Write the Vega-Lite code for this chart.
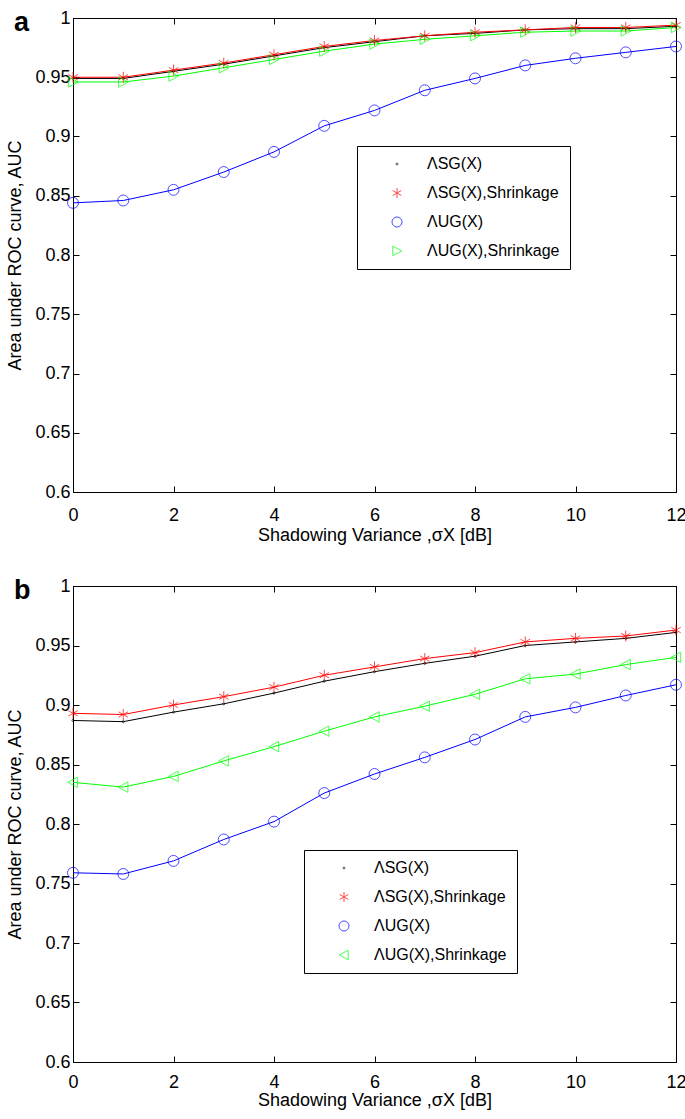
{
  "$schema": "https://vega.github.io/schema/vega-lite/v6.json",
  "background": "white",
  "padding": {"left": 6, "top": 8, "right": 9, "bottom": 2},
  "spacing": 31,
  "config": {
    "font": "Liberation Sans",
    "view": {"stroke": "black", "strokeWidth": 1},
    "axis": {
      "grid": false,
      "domainColor": "black",
      "tickColor": "black",
      "labelColor": "black",
      "titleColor": "black",
      "labelFont": "Liberation Sans",
      "titleFont": "Liberation Sans",
      "labelFontSize": 18,
      "titleFontSize": 18,
      "titleFontWeight": "normal",
      "tickSize": -6,
      "labelFlush": false,
      "labelOverlap": false
    },
    "legend": {
      "labelFont": "Liberation Sans",
      "labelFontSize": 16,
      "labelColor": "black",
      "strokeColor": "black",
      "fillColor": "white",
      "padding": 10,
      "rowPadding": 13,
      "symbolSize": 100,
      "symbolStrokeWidth": 1,
      "symbolOffset": 22,
      "labelOffset": 22
    },
    "title": {"font": "Liberation Sans", "fontSize": 27, "fontWeight": "bold", "color": "black"}
  },
  "datasets": {
    "auc": [
      {"panel": "a", "x": 0, "series": "ΛSG(X)", "auc": 0.949},
      {"panel": "a", "x": 1, "series": "ΛSG(X)", "auc": 0.949},
      {"panel": "a", "x": 2, "series": "ΛSG(X)", "auc": 0.955},
      {"panel": "a", "x": 3, "series": "ΛSG(X)", "auc": 0.961},
      {"panel": "a", "x": 4, "series": "ΛSG(X)", "auc": 0.968},
      {"panel": "a", "x": 5, "series": "ΛSG(X)", "auc": 0.975},
      {"panel": "a", "x": 6, "series": "ΛSG(X)", "auc": 0.980},
      {"panel": "a", "x": 7, "series": "ΛSG(X)", "auc": 0.985},
      {"panel": "a", "x": 8, "series": "ΛSG(X)", "auc": 0.987},
      {"panel": "a", "x": 9, "series": "ΛSG(X)", "auc": 0.990},
      {"panel": "a", "x": 10, "series": "ΛSG(X)", "auc": 0.991},
      {"panel": "a", "x": 11, "series": "ΛSG(X)", "auc": 0.991},
      {"panel": "a", "x": 12, "series": "ΛSG(X)", "auc": 0.993},
      {"panel": "a", "x": 0, "series": "ΛSG(X),Shrinkage", "auc": 0.950},
      {"panel": "a", "x": 1, "series": "ΛSG(X),Shrinkage", "auc": 0.950},
      {"panel": "a", "x": 2, "series": "ΛSG(X),Shrinkage", "auc": 0.956},
      {"panel": "a", "x": 3, "series": "ΛSG(X),Shrinkage", "auc": 0.962},
      {"panel": "a", "x": 4, "series": "ΛSG(X),Shrinkage", "auc": 0.969},
      {"panel": "a", "x": 5, "series": "ΛSG(X),Shrinkage", "auc": 0.976},
      {"panel": "a", "x": 6, "series": "ΛSG(X),Shrinkage", "auc": 0.981},
      {"panel": "a", "x": 7, "series": "ΛSG(X),Shrinkage", "auc": 0.985},
      {"panel": "a", "x": 8, "series": "ΛSG(X),Shrinkage", "auc": 0.988},
      {"panel": "a", "x": 9, "series": "ΛSG(X),Shrinkage", "auc": 0.990},
      {"panel": "a", "x": 10, "series": "ΛSG(X),Shrinkage", "auc": 0.992},
      {"panel": "a", "x": 11, "series": "ΛSG(X),Shrinkage", "auc": 0.992},
      {"panel": "a", "x": 12, "series": "ΛSG(X),Shrinkage", "auc": 0.994},
      {"panel": "a", "x": 0, "series": "ΛUG(X)", "auc": 0.844},
      {"panel": "a", "x": 1, "series": "ΛUG(X)", "auc": 0.846},
      {"panel": "a", "x": 2, "series": "ΛUG(X)", "auc": 0.855},
      {"panel": "a", "x": 3, "series": "ΛUG(X)", "auc": 0.870},
      {"panel": "a", "x": 4, "series": "ΛUG(X)", "auc": 0.887},
      {"panel": "a", "x": 5, "series": "ΛUG(X)", "auc": 0.909},
      {"panel": "a", "x": 6, "series": "ΛUG(X)", "auc": 0.922},
      {"panel": "a", "x": 7, "series": "ΛUG(X)", "auc": 0.939},
      {"panel": "a", "x": 8, "series": "ΛUG(X)", "auc": 0.949},
      {"panel": "a", "x": 9, "series": "ΛUG(X)", "auc": 0.960},
      {"panel": "a", "x": 10, "series": "ΛUG(X)", "auc": 0.966},
      {"panel": "a", "x": 11, "series": "ΛUG(X)", "auc": 0.971},
      {"panel": "a", "x": 12, "series": "ΛUG(X)", "auc": 0.976},
      {"panel": "a", "x": 0, "series": "ΛUG(X),Shrinkage", "auc": 0.946},
      {"panel": "a", "x": 1, "series": "ΛUG(X),Shrinkage", "auc": 0.946},
      {"panel": "a", "x": 2, "series": "ΛUG(X),Shrinkage", "auc": 0.951},
      {"panel": "a", "x": 3, "series": "ΛUG(X),Shrinkage", "auc": 0.958},
      {"panel": "a", "x": 4, "series": "ΛUG(X),Shrinkage", "auc": 0.965},
      {"panel": "a", "x": 5, "series": "ΛUG(X),Shrinkage", "auc": 0.972},
      {"panel": "a", "x": 6, "series": "ΛUG(X),Shrinkage", "auc": 0.978},
      {"panel": "a", "x": 7, "series": "ΛUG(X),Shrinkage", "auc": 0.982},
      {"panel": "a", "x": 8, "series": "ΛUG(X),Shrinkage", "auc": 0.985},
      {"panel": "a", "x": 9, "series": "ΛUG(X),Shrinkage", "auc": 0.988},
      {"panel": "a", "x": 10, "series": "ΛUG(X),Shrinkage", "auc": 0.989},
      {"panel": "a", "x": 11, "series": "ΛUG(X),Shrinkage", "auc": 0.989},
      {"panel": "a", "x": 12, "series": "ΛUG(X),Shrinkage", "auc": 0.992},
      {"panel": "b", "x": 0, "series": "ΛSG(X)", "auc": 0.887},
      {"panel": "b", "x": 1, "series": "ΛSG(X)", "auc": 0.886},
      {"panel": "b", "x": 2, "series": "ΛSG(X)", "auc": 0.894},
      {"panel": "b", "x": 3, "series": "ΛSG(X)", "auc": 0.901},
      {"panel": "b", "x": 4, "series": "ΛSG(X)", "auc": 0.910},
      {"panel": "b", "x": 5, "series": "ΛSG(X)", "auc": 0.920},
      {"panel": "b", "x": 6, "series": "ΛSG(X)", "auc": 0.928},
      {"panel": "b", "x": 7, "series": "ΛSG(X)", "auc": 0.935},
      {"panel": "b", "x": 8, "series": "ΛSG(X)", "auc": 0.941},
      {"panel": "b", "x": 9, "series": "ΛSG(X)", "auc": 0.950},
      {"panel": "b", "x": 10, "series": "ΛSG(X)", "auc": 0.953},
      {"panel": "b", "x": 11, "series": "ΛSG(X)", "auc": 0.956},
      {"panel": "b", "x": 12, "series": "ΛSG(X)", "auc": 0.961},
      {"panel": "b", "x": 0, "series": "ΛSG(X),Shrinkage", "auc": 0.893},
      {"panel": "b", "x": 1, "series": "ΛSG(X),Shrinkage", "auc": 0.892},
      {"panel": "b", "x": 2, "series": "ΛSG(X),Shrinkage", "auc": 0.900},
      {"panel": "b", "x": 3, "series": "ΛSG(X),Shrinkage", "auc": 0.907},
      {"panel": "b", "x": 4, "series": "ΛSG(X),Shrinkage", "auc": 0.915},
      {"panel": "b", "x": 5, "series": "ΛSG(X),Shrinkage", "auc": 0.925},
      {"panel": "b", "x": 6, "series": "ΛSG(X),Shrinkage", "auc": 0.932},
      {"panel": "b", "x": 7, "series": "ΛSG(X),Shrinkage", "auc": 0.939},
      {"panel": "b", "x": 8, "series": "ΛSG(X),Shrinkage", "auc": 0.944},
      {"panel": "b", "x": 9, "series": "ΛSG(X),Shrinkage", "auc": 0.953},
      {"panel": "b", "x": 10, "series": "ΛSG(X),Shrinkage", "auc": 0.956},
      {"panel": "b", "x": 11, "series": "ΛSG(X),Shrinkage", "auc": 0.958},
      {"panel": "b", "x": 12, "series": "ΛSG(X),Shrinkage", "auc": 0.963},
      {"panel": "b", "x": 0, "series": "ΛUG(X)", "auc": 0.759},
      {"panel": "b", "x": 1, "series": "ΛUG(X)", "auc": 0.758},
      {"panel": "b", "x": 2, "series": "ΛUG(X)", "auc": 0.769},
      {"panel": "b", "x": 3, "series": "ΛUG(X)", "auc": 0.787},
      {"panel": "b", "x": 4, "series": "ΛUG(X)", "auc": 0.802},
      {"panel": "b", "x": 5, "series": "ΛUG(X)", "auc": 0.826},
      {"panel": "b", "x": 6, "series": "ΛUG(X)", "auc": 0.842},
      {"panel": "b", "x": 7, "series": "ΛUG(X)", "auc": 0.856},
      {"panel": "b", "x": 8, "series": "ΛUG(X)", "auc": 0.871},
      {"panel": "b", "x": 9, "series": "ΛUG(X)", "auc": 0.890},
      {"panel": "b", "x": 10, "series": "ΛUG(X)", "auc": 0.898},
      {"panel": "b", "x": 11, "series": "ΛUG(X)", "auc": 0.908},
      {"panel": "b", "x": 12, "series": "ΛUG(X)", "auc": 0.917},
      {"panel": "b", "x": 0, "series": "ΛUG(X),Shrinkage", "auc": 0.835},
      {"panel": "b", "x": 1, "series": "ΛUG(X),Shrinkage", "auc": 0.831},
      {"panel": "b", "x": 2, "series": "ΛUG(X),Shrinkage", "auc": 0.840},
      {"panel": "b", "x": 3, "series": "ΛUG(X),Shrinkage", "auc": 0.853},
      {"panel": "b", "x": 4, "series": "ΛUG(X),Shrinkage", "auc": 0.865},
      {"panel": "b", "x": 5, "series": "ΛUG(X),Shrinkage", "auc": 0.878},
      {"panel": "b", "x": 6, "series": "ΛUG(X),Shrinkage", "auc": 0.890},
      {"panel": "b", "x": 7, "series": "ΛUG(X),Shrinkage", "auc": 0.899},
      {"panel": "b", "x": 8, "series": "ΛUG(X),Shrinkage", "auc": 0.909},
      {"panel": "b", "x": 9, "series": "ΛUG(X),Shrinkage", "auc": 0.922},
      {"panel": "b", "x": 10, "series": "ΛUG(X),Shrinkage", "auc": 0.926},
      {"panel": "b", "x": 11, "series": "ΛUG(X),Shrinkage", "auc": 0.934},
      {"panel": "b", "x": 12, "series": "ΛUG(X),Shrinkage", "auc": 0.940}
    ]
  },
  "resolve": {"scale": {"color": "independent", "shape": "independent"}, "legend": {"color": "independent", "shape": "independent"}},
  "vconcat": [
    {
      "width": 603,
      "height": 474,
      "title": {"text": "a", "anchor": "start", "frame": "bounds", "offset": -28, "dx": 7},
      "data": {"name": "auc"},
      "transform": [{"filter": "datum.panel == 'a'"}],
      "layer": [
        {
          "mark": {"type": "line", "strokeWidth": 1, "clip": true},
          "encoding": {
            "x": {"field": "x", "type": "quantitative", "scale": {"domain": [0, 12], "nice": false, "zero": false},
              "axis": {"orient": "bottom", "values": [0, 2, 4, 6, 8, 10, 12], "title": "Shadowing Variance ,σX [dB]", "labelPadding": 20, "titlePadding": 2}},
            "y": {"field": "auc", "type": "quantitative", "scale": {"domain": [0.6, 1], "nice": false, "zero": false},
              "axis": {"orient": "left", "values": [0.6, 0.65, 0.7, 0.75, 0.8, 0.85, 0.9, 0.95, 1], "format": ".2~f", "title": "Area under ROC curve, AUC", "labelPadding": 9, "titlePadding": 10}},
            "color": {"field": "series", "type": "nominal",
              "scale": {"domain": ["ΛSG(X)", "ΛSG(X),Shrinkage", "ΛUG(X)", "ΛUG(X),Shrinkage"], "range": ["#000000", "#ff0000", "#0000ff", "#00ff00"]},
              "legend": {"title": null, "orient": "none", "legendX": 284, "legendY": 128}}
          }
        },
        {
          "mark": {"type": "point", "filled": false, "size": 120, "strokeWidth": 1, "clip": false},
          "encoding": {
            "x": {"field": "x", "type": "quantitative", "axis": {"orient": "top", "values": [0, 2, 4, 6, 8, 10, 12], "labels": false, "title": null}},
            "y": {"field": "auc", "type": "quantitative", "axis": {"orient": "right", "values": [0.6, 0.65, 0.7, 0.75, 0.8, 0.85, 0.9, 0.95, 1], "labels": false, "title": null}},
            "color": {"field": "series", "type": "nominal",
              "scale": {"domain": ["ΛSG(X)", "ΛSG(X),Shrinkage", "ΛUG(X)", "ΛUG(X),Shrinkage"], "range": ["#000000", "#ff0000", "#0000ff", "#00ff00"]},
              "legend": {"title": null, "orient": "none", "legendX": 284, "legendY": 128}},
            "shape": {"field": "series", "type": "nominal",
              "scale": {"domain": ["ΛSG(X)", "ΛSG(X),Shrinkage", "ΛUG(X)", "ΛUG(X),Shrinkage"],
                "range": ["M-0.2,0A0.2,0.2 0 1 1 0.2,0A0.2,0.2 0 1 1 -0.2,0", "M0,-1V1M-0.87,-0.5L0.87,0.5M-0.87,0.5L0.87,-0.5", "circle", "M-0.85,-0.95L0.95,0L-0.85,0.95Z"]},
              "legend": {"title": null, "orient": "none", "legendX": 284, "legendY": 128}}
          }
        }
      ]
    },
    {
      "width": 603,
      "height": 476,
      "title": {"text": "b", "anchor": "start", "frame": "bounds", "offset": -28, "dx": 7},
      "data": {"name": "auc"},
      "transform": [{"filter": "datum.panel == 'b'"}],
      "layer": [
        {
          "mark": {"type": "line", "strokeWidth": 1, "clip": true},
          "encoding": {
            "x": {"field": "x", "type": "quantitative", "scale": {"domain": [0, 12], "nice": false, "zero": false},
              "axis": {"orient": "bottom", "values": [0, 2, 4, 6, 8, 10, 12], "title": "Shadowing Variance ,σX [dB]", "labelPadding": 17, "titlePadding": 0}},
            "y": {"field": "auc", "type": "quantitative", "scale": {"domain": [0.6, 1], "nice": false, "zero": false},
              "axis": {"orient": "left", "values": [0.6, 0.65, 0.7, 0.75, 0.8, 0.85, 0.9, 0.95, 1], "format": ".2~f", "title": "Area under ROC curve, AUC", "labelPadding": 9, "titlePadding": 10}},
            "color": {"field": "series", "type": "nominal",
              "scale": {"domain": ["ΛSG(X)", "ΛSG(X),Shrinkage", "ΛUG(X)", "ΛUG(X),Shrinkage"], "range": ["#000000", "#ff0000", "#0000ff", "#00ff00"]},
              "legend": {"title": null, "orient": "none", "legendX": 231, "legendY": 264}}
          }
        },
        {
          "mark": {"type": "point", "filled": false, "size": 120, "strokeWidth": 1, "clip": false},
          "encoding": {
            "x": {"field": "x", "type": "quantitative", "axis": {"orient": "top", "values": [0, 2, 4, 6, 8, 10, 12], "labels": false, "title": null}},
            "y": {"field": "auc", "type": "quantitative", "axis": {"orient": "right", "values": [0.6, 0.65, 0.7, 0.75, 0.8, 0.85, 0.9, 0.95, 1], "labels": false, "title": null}},
            "color": {"field": "series", "type": "nominal",
              "scale": {"domain": ["ΛSG(X)", "ΛSG(X),Shrinkage", "ΛUG(X)", "ΛUG(X),Shrinkage"], "range": ["#000000", "#ff0000", "#0000ff", "#00ff00"]},
              "legend": {"title": null, "orient": "none", "legendX": 231, "legendY": 264}},
            "shape": {"field": "series", "type": "nominal",
              "scale": {"domain": ["ΛSG(X)", "ΛSG(X),Shrinkage", "ΛUG(X)", "ΛUG(X),Shrinkage"],
                "range": ["M-0.2,0A0.2,0.2 0 1 1 0.2,0A0.2,0.2 0 1 1 -0.2,0", "M0,-1V1M-0.87,-0.5L0.87,0.5M-0.87,0.5L0.87,-0.5", "circle", "M0.85,-0.95L-0.95,0L0.85,0.95Z"]},
              "legend": {"title": null, "orient": "none", "legendX": 231, "legendY": 264}}
          }
        }
      ]
    }
  ]
}
